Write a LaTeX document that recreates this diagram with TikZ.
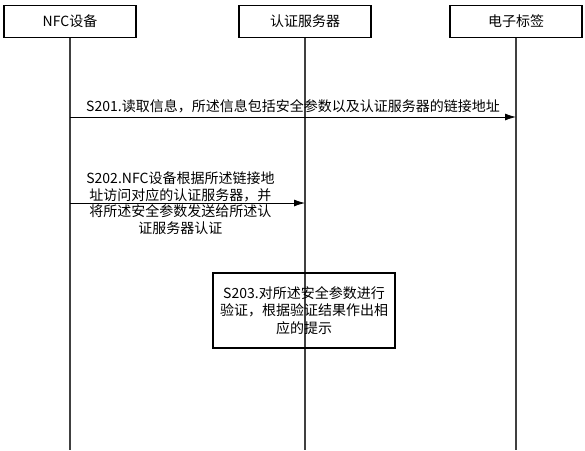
\documentclass[tikz,border=0pt]{standalone}
\usepackage{fontspec}
\setmainfont{Noto Sans CJK SC}
\usetikzlibrary{arrows.meta,positioning}

\begin{document}
\begin{tikzpicture}[
    x=1pt, y=-1pt,
    actor/.style={draw, line width=1.1pt, minimum width=132pt, minimum height=32pt, font=\fontsize{14}{16}\selectfont},
    life/.style={draw=black!75, line width=1.1pt},
    msg/.style={-{Latex[length=11pt, width=7pt]}, line width=0.8pt},
    note/.style={align=center, inner sep=0pt, font=\fontsize{14}{16.5}\selectfont},
    verify/.style={draw, line width=1.1pt, minimum width=182pt, minimum height=75pt, align=center, font=\fontsize{14}{17.5}\selectfont}
  ]
    \useasboundingbox (0,0) rectangle (585,450);
    \node[actor] (nfc) at (70,21.5) {NFC设备};
    \node[actor] (server) at (305,21.5) {认证服务器};
    \node[actor] (tag) at (516,21.5) {电子标签};
    \coordinate (bottom) at (0,450);
    \coordinate (y1) at (0,117);
    \coordinate (y2) at (0,203);
    % lifelines
    \draw[life] (nfc) -- (nfc |- bottom);
    \draw[life] (server) -- (server |- bottom);
    \draw[life] (tag) -- (tag |- bottom);
    % messages
    \draw[msg] (nfc |- y1) -- node[note, above=4pt] (read) {S201.读取信息，所述信息包括安全参数以及认证服务器的链接地址} (tag |- y1);
    \draw[msg] (nfc |- y2) -- node[note, pos=0.47] (send) {S202.NFC设备根据所述链接地\\址访问对应的认证服务器，并\\将所述安全参数发送给所述认\\证服务器认证} (server |- y2);
    \node[verify] (check) at (304,310.5) {S203.对所述安全参数进行\\验证，根据验证结果作出相\\应的提示};
  \end{tikzpicture}
\end{document}
